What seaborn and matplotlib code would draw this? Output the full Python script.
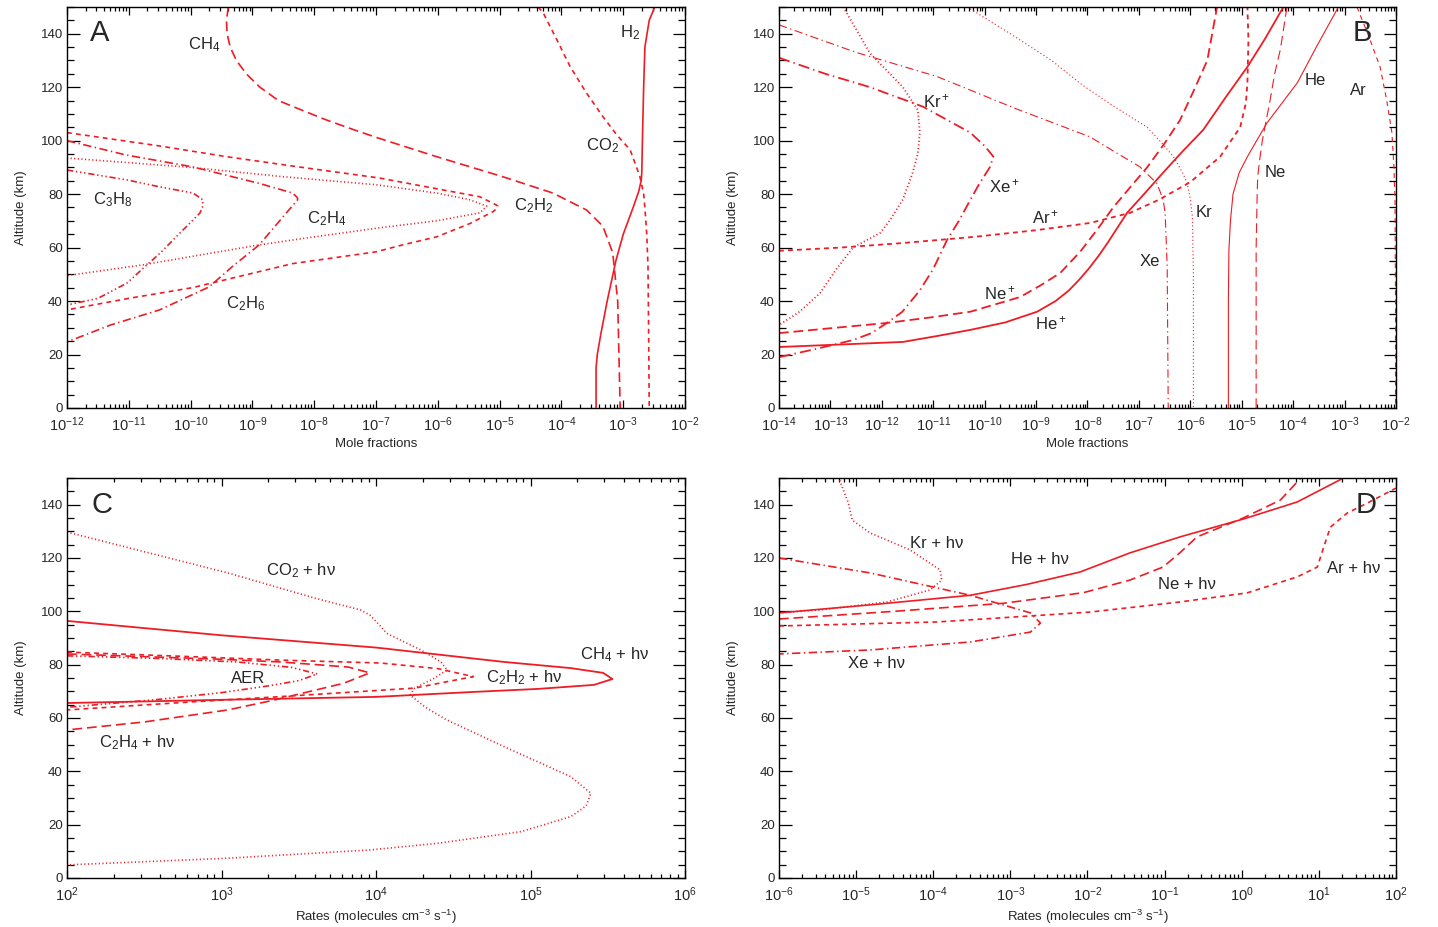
import numpy as np
import matplotlib
matplotlib.use("Agg")
import matplotlib.pyplot as plt
import matplotlib.ticker as mticker
import seaborn as sns

# ---- panel A : mole fractions (log10 of x) vs altitude (km)
h2_alt = [0, 15, 20, 28, 40, 55, 65, 75, 81, 85, 88, 100, 120, 135, 145, 150]
h2_lx = [-3.44, -3.44, -3.42, -3.36, -3.26, -3.12, -3.00, -2.84, -2.75, -2.71, -2.70, -2.69, -2.67, -2.65, -2.58, -2.49]
ch4_alt = [150, 145, 140, 135, 130, 125, 120, 115, 112.7, 107.7, 104, 101, 94, 86.5, 80.4, 74, 68, 58, 40, 0]
ch4_lx = [-9.39, -9.42, -9.41, -9.36, -9.26, -9.10, -8.88, -8.58, -8.34, -7.80, -7.35, -6.97, -6.02, -4.95, -4.14, -3.59, -3.33, -3.17, -3.09, -3.05]
co2_alt = [150, 148, 138, 127.7, 118, 109, 102, 96.6, 91, 86.5, 80, 75, 65, 53, 30, 0]
co2_lx = [-4.38, -4.30, -4.08, -3.86, -3.60, -3.33, -3.10, -2.89, -2.80, -2.73, -2.67, -2.65, -2.62, -2.60, -2.59, -2.58]
c2h2_alt = [103, 98, 94, 90, 86, 82, 79, 76, 75.5, 74.5, 73.4, 69, 64, 61, 58.4, 54, 45, 41, 36.7]
c2h2_lx = [-12.0, -10.5, -9.42, -8.2, -6.94, -6.02, -5.32, -5.06, -5.03, -5.05, -5.11, -5.48, -6.02, -6.57, -7.0, -8.35, -9.97, -11.0, -12.0]
c2h4_alt = [93.5, 90, 86.5, 83.5, 80.4, 78, 75.5, 73, 70, 67.4, 64, 61, 57, 53.5, 49.5]
c2h4_lx = [-12.0, -10.0, -8.5, -7.0, -6.02, -5.5, -5.21, -5.32, -6.02, -6.94, -8.0, -8.89, -9.9, -10.78, -12.0]
c3h8_alt = [89, 85.3, 82.7, 80.4, 77.8, 75, 72.9, 65.5, 58, 52, 46.7, 41, 38.5]
c3h8_lx = [-12.0, -11.03, -10.5, -9.96, -9.80, -9.81, -9.85, -10.17, -10.49, -10.78, -11.03, -11.5, -12.0]
c2h6_alt = [100, 94.6, 90.2, 84, 80.4, 78.6, 77.8, 73, 61, 52.8, 45.3, 36.7, 31, 24.7]
c2h6_lx = [-12.0, -11.04, -9.97, -8.89, -8.35, -8.27, -8.27, -8.45, -8.89, -9.33, -9.70, -10.5, -11.3, -12.0]

# ---- panel B : noble gases and ions
kri_alt = [150, 140, 132.7, 120, 111.5, 103, 95, 88, 78, 70, 65.5, 60, 52, 43, 36, 31]
kri_lx = [-12.75, -12.45, -12.23, -11.59, -11.30, -11.26, -11.30, -11.40, -11.59, -11.85, -12.03, -12.56, -12.88, -13.20, -13.6, -14.0]
xei_alt = [131, 125, 120, 112.7, 103, 98, 94, 90, 84, 77.8, 70, 62.9, 52, 44, 36, 31.8, 28, 25.4, 22, 19]
xei_lx = [-14.0, -13.1, -12.23, -11.2, -10.28, -10.0, -9.83, -9.9, -10.1, -10.28, -10.5, -10.73, -11.0, -11.26, -11.6, -11.9, -12.2, -12.56, -13.3, -14.0]
ari_alt = [58.8, 60, 61.7, 64, 66.5, 69.2, 73, 78, 84.5, 94, 105, 114, 121.6, 137.7, 150]
ari_lx = [-14.0, -12.8, -11.59, -10.2, -9.0, -7.95, -7.17, -6.6, -6.0, -5.42, -5.03, -4.92, -4.89, -4.87, -4.89]
nei_alt = [28, 30, 31.8, 34, 36, 41.5, 46, 50.5, 58.5, 67, 75, 83, 90, 99, 107.7, 118, 130, 150]
nei_lx = [-14.0, -12.9, -11.9, -11.0, -10.28, -9.31, -8.9, -8.53, -8.14, -7.8, -7.5, -7.15, -6.84, -6.5, -6.2, -5.95, -5.67, -5.48]
hei_alt = [22.8, 24.7, 27, 29.2, 32, 36, 40, 44, 48, 52, 57, 62, 73, 80, 88, 96, 104, 116, 127.6, 138, 150]
hei_lx = [-14.0, -11.59, -10.9, -10.28, -9.6, -8.98, -8.62, -8.36, -8.16, -7.98, -7.78, -7.6, -7.23, -6.9, -6.53, -6.15, -5.75, -5.32, -4.89, -4.55, -4.19]
xe_alt = [143.3, 133, 124, 112, 101.4, 95, 90.2, 84, 78, 73, 53, 0]
xe_lx = [-14.0, -12.5, -10.93, -9.4, -7.95, -7.4, -6.98, -6.65, -6.53, -6.49, -6.45, -6.43]
kr_alt = [150, 140, 130, 120.8, 113, 105, 99, 94, 88, 84, 78, 71.5, 50, 0]
kr_lx = [-10.34, -9.5, -8.7, -8.1, -7.5, -6.84, -6.55, -6.33, -6.15, -6.06, -6.0, -5.96, -5.94, -5.94]
he_alt = [0, 40, 59, 70, 80, 88, 94, 100, 106.6, 121.6, 135, 150]
he_lx = [-5.26, -5.26, -5.25, -5.22, -5.17, -5.05, -4.89, -4.71, -4.51, -3.92, -3.55, -3.12]
ne_alt = [0, 60, 80, 86.5, 93, 100, 115, 125, 134, 150]
ne_lx = [-4.72, -4.72, -4.70, -4.69, -4.65, -4.60, -4.45, -4.36, -4.25, -4.12]
ar_alt = [150, 140, 127.6, 115, 103, 90, 77.8, 40, 0]
ar_lx = [-2.76, -2.55, -2.31, -2.18, -2.08, -2.04, -2.02, -2.01, -2.01]

# ---- panel C : photolysis rates (log10)
ch4hv_alt = [96.4, 91, 86.4, 81, 78.7, 76.9, 74.6, 72.4, 70.9, 69.7, 67.9, 66.8, 65.6]
ch4hv_lx = [2.0, 3.0, 4.0, 4.83, 5.26, 5.47, 5.53, 5.41, 5.05, 4.61, 4.0, 3.0, 2.0]
co2hv_alt = [129.7, 114.4, 105, 100.5, 98.6, 95, 91.7, 85.5, 81, 78, 75, 71.2, 68.6, 64, 59.5, 49.2, 38, 31.8, 27, 23, 17.4, 13, 10.5, 7.4, 4.9]
co2hv_lx = [2.0, 3.04, 3.6, 3.9, 3.96, 4.02, 4.07, 4.29, 4.42, 4.46, 4.38, 4.25, 4.22, 4.32, 4.45, 4.83, 5.26, 5.39, 5.36, 5.26, 4.94, 4.40, 3.96, 3.04, 2.0]
c2h2hv_alt = [84.7, 83, 81.7, 80.6, 78.5, 75.5, 73.5, 71.2, 68, 66, 63]
c2h2hv_lx = [2.0, 2.8, 3.38, 4.03, 4.4, 4.63, 4.45, 4.25, 3.38, 2.8, 2.0]
c2h4hv_alt = [84, 82, 81, 79.1, 76.9, 73, 66.7, 63, 58.5, 55.5]
c2h4hv_lx = [2.0, 3.0, 3.38, 3.82, 3.96, 3.79, 3.34, 3.04, 2.5, 2.0]
aer_alt = [83.3, 82.3, 81, 79, 76.5, 74, 72, 69.5, 67, 64]
aer_lx = [2.0, 2.6, 3.1, 3.45, 3.62, 3.5, 3.3, 3.0, 2.6, 2.0]

# ---- panel D : noble gas photoionisation rates (log10)
krhv_alt = [150.4, 140.6, 134.2, 129.4, 123, 115.5, 111.7, 108, 103.5, 100.5, 99.4]
krhv_lx = [-5.23, -5.10, -5.05, -4.82, -4.30, -3.91, -3.89, -4.04, -4.60, -5.47, -6.0]
hehv_alt = [99.4, 102.4, 106, 110, 114.7, 121.9, 127.9, 134.6, 141, 150]
hehv_lx = [-6.0, -4.82, -3.52, -2.8, -2.10, -1.45, -0.80, 0.02, 0.72, 1.32]
nehv_alt = [97.1, 100, 103, 107, 111.7, 116.6, 122, 127.9, 135, 141.7, 150.4]
nehv_lx = [-6.0, -4.5, -3.09, -2.05, -1.45, -1.02, -0.8, -0.58, 0.02, 0.50, 0.78]
arhv_alt = [94.5, 96, 99.7, 103.5, 106.9, 112.9, 116.6, 125.6, 131.6, 136.9, 140.6, 146.2]
arhv_lx = [-6.0, -3.95, -1.97, -0.80, 0.07, 0.72, 0.98, 1.08, 1.15, 1.37, 1.63, 2.0]
xehv_alt = [120, 114.4, 106, 99.4, 95.6, 92.2, 88.5, 85.5, 84]
xehv_lx = [-6.0, -4.82, -3.52, -2.74, -2.61, -2.74, -3.52, -4.82, -6.0]

sns.set_style("ticks")
plt.rcParams['font.family'] = ['Liberation Sans', 'DejaVu Sans']
plt.rcParams['mathtext.fontset'] = 'custom'
plt.rcParams['mathtext.rm'] = 'Liberation Sans'
plt.rcParams['mathtext.it'] = 'Liberation Sans:italic'
plt.rcParams['mathtext.default'] = 'regular'
plt.rcParams['lines.scale_dashes'] = False

RED = '#ee1c24'
SOLID = '-'
DASH = (0, (3.5, 3))
LONG = (0, (7, 3.5))
DOT = (0, (0.8, 1.8))
DASHDOT = (0, (6, 2.5, 1, 2.5))
DASH3DOT = (0, (4.5, 2, 1, 2, 1, 2, 1, 2))


def curve(ax, lx, alt, ls, lw=1.2):
    sns.lineplot(x=10 ** np.array(lx), y=np.array(alt), ax=ax, sort=False,
                 estimator=None, color=RED, linestyle=ls, lw=lw)


def setup(ax, xlo, xhi, xlabel):
    ax.set_xscale('log')
    ax.set_xlim(10.0 ** xlo, 10.0 ** xhi)
    ax.set_ylim(0, 150)
    decades = np.arange(xlo, xhi + 1)
    minors = [m * 10.0 ** d for d in decades[:-1] for m in range(2, 10)]
    ax.xaxis.set_major_locator(mticker.FixedLocator(10.0 ** decades))
    ax.xaxis.set_major_formatter(mticker.LogFormatterMathtext())
    ax.xaxis.set_minor_locator(mticker.FixedLocator(minors))
    ax.xaxis.set_minor_formatter(mticker.NullFormatter())
    ax.yaxis.set_major_locator(mticker.MultipleLocator(20))
    ax.yaxis.set_minor_locator(mticker.MultipleLocator(5))
    ax.tick_params(which='both', direction='in', top=True, right=True, width=0.9, color='black')
    ax.tick_params(axis='y', which='major', length=9, pad=3, labelsize=9.5)
    ax.tick_params(axis='y', which='minor', length=5)
    ax.tick_params(axis='x', which='major', length=6, pad=5, labelsize=10.5)
    ax.tick_params(axis='x', which='minor', length=3)
    for s in ax.spines.values():
        s.set_linewidth(1.0)
        s.set_color('black')
    ax.set_xlabel(xlabel, fontsize=9.5, labelpad=3)
    ax.set_ylabel("Altitude (km)", fontsize=9.5, labelpad=10)


def lab(ax, lx, alt, s):
    ax.text(10.0 ** lx, alt, s, fontsize=12, ha='left', va='baseline')


fig = plt.figure(figsize=(14.38, 9.27), dpi=100)
axA = fig.add_axes([0.0466, 0.5599, 0.4298, 0.4326])
axB = fig.add_axes([0.5417, 0.5599, 0.4291, 0.4326])
axC = fig.add_axes([0.0466, 0.0529, 0.4298, 0.4315])
axD = fig.add_axes([0.5417, 0.0529, 0.4291, 0.4315])

# A
curve(axA, h2_lx, h2_alt, SOLID)
curve(axA, ch4_lx, ch4_alt, LONG)
curve(axA, co2_lx, co2_alt, DASH)
curve(axA, c2h2_lx, c2h2_alt, DASH)
curve(axA, c2h4_lx, c2h4_alt, DOT)
curve(axA, c3h8_lx, c3h8_alt, DASH3DOT)
curve(axA, c2h6_lx, c2h6_alt, DASHDOT)
setup(axA, -12, -2, "Mole fractions")
lab(axA, -10.04, 134.3, "CH$_4$")
lab(axA, -3.05, 138.8, "H$_2$")
lab(axA, -3.6, 96.5, "CO$_2$")
lab(axA, -4.77, 74.1, "C$_2$H$_2$")
lab(axA, -8.11, 69.2, "C$_2$H$_4$")
lab(axA, -11.58, 76.3, "C$_3$H$_8$")
lab(axA, -9.42, 37.4, "C$_2$H$_6$")
axA.text(0.053, 0.935, "A", transform=axA.transAxes, fontsize=21, ha='center', va='center')

# B
curve(axB, kri_lx, kri_alt, DOT, 1.3)
curve(axB, xei_lx, xei_alt, (0, (8, 3, 1, 3)), 1.3)
curve(axB, ari_lx, ari_alt, DASH, 1.3)
curve(axB, nei_lx, nei_alt, LONG, 1.3)
curve(axB, hei_lx, hei_alt, SOLID, 1.3)
curve(axB, xe_lx, xe_alt, DASHDOT, 0.8)
curve(axB, kr_lx, kr_alt, DOT, 0.8)
curve(axB, he_lx, he_alt, SOLID, 0.8)
curve(axB, ne_lx, ne_alt, LONG, 0.8)
curve(axB, ar_lx, ar_alt, DASH, 0.8)
setup(axB, -14, -2, "Mole fractions")
lab(axB, -11.20, 112.6, "Kr$^+$")
lab(axB, -9.92, 80.8, "Xe$^+$")
lab(axB, -9.08, 69.2, "Ar$^+$")
lab(axB, -10.01, 40.8, "Ne$^+$")
lab(axB, -9.02, 29.6, "He$^+$")
lab(axB, -6.98, 53.1, "Xe")
lab(axB, -5.89, 71.5, "Kr")
lab(axB, -4.55, 86.4, "Ne")
lab(axB, -3.77, 120.8, "He")
lab(axB, -2.90, 117.1, "Ar")
axB.text(0.946, 0.935, "B", transform=axB.transAxes, fontsize=21, ha='center', va='center')

# C
curve(axC, ch4hv_lx, ch4hv_alt, SOLID, 1.3)
curve(axC, co2hv_lx, co2hv_alt, DOT)
curve(axC, c2h2hv_lx, c2h2hv_alt, DASH)
curve(axC, c2h4hv_lx, c2h4hv_alt, LONG)
curve(axC, aer_lx, aer_alt, DASH3DOT)
setup(axC, 2, 6, "Rates (molecules cm$^{-3}$ s$^{-1}$)")
lab(axC, 3.29, 113.6, "CO$_2$ + hν")
lab(axC, 5.32, 82.1, "CH$_4$ + hν")
lab(axC, 4.71, 73.5, "C$_2$H$_2$ + hν")
lab(axC, 3.06, 73.1, "AER")
lab(axC, 2.21, 49.1, "C$_2$H$_4$ + hν")
axC.text(0.057, 0.932, "C", transform=axC.transAxes, fontsize=21, ha='center', va='center')

# D
curve(axD, krhv_lx, krhv_alt, DOT)
curve(axD, hehv_lx, hehv_alt, SOLID)
curve(axD, nehv_lx, nehv_alt, LONG)
curve(axD, arhv_lx, arhv_alt, DASH)
curve(axD, xehv_lx, xehv_alt, DASHDOT)
setup(axD, -6, 2, "Rates (molecules cm$^{-3}$ s$^{-1}$)")
lab(axD, -4.30, 123.7, "Kr + hν")
lab(axD, -2.99, 117.7, "He + hν")
lab(axD, -1.08, 108.4, "Ne + hν")
lab(axD, 1.11, 114.4, "Ar + hν")
lab(axD, -5.10, 78.7, "Xe + hν")
axD.text(0.951, 0.932, "D", transform=axD.transAxes, fontsize=21, ha='center', va='center')

fig.savefig("out.png", dpi=100)
